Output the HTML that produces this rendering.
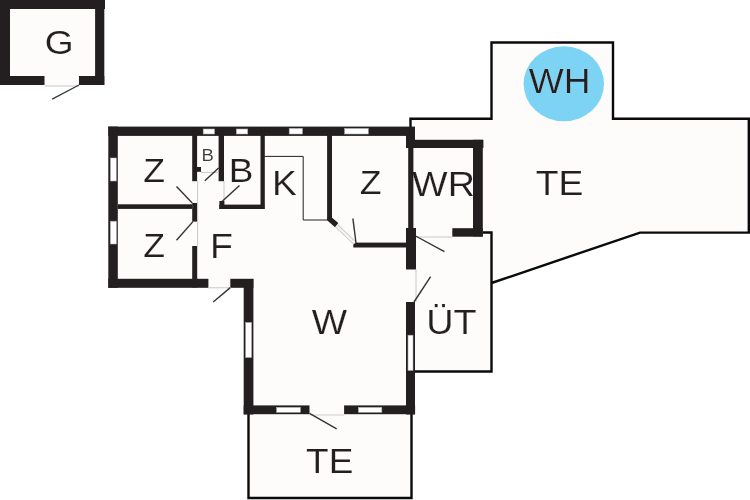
<!DOCTYPE html>
<html><head><meta charset="utf-8"><style>
html,body{margin:0;padding:0;background:#fff;width:750px;height:500px;overflow:hidden}
svg{display:block;will-change:transform}
text{font-family:"Liberation Sans",sans-serif;fill:#231f20;stroke:#fff;stroke-width:0.4px}
</style></head><body>
<svg width="750" height="500" viewBox="0 0 750 500">
<rect x="0" y="0" width="750" height="500" fill="#fff"/>
<g fill="#fdfcfb">
<rect x="0" y="0" width="105" height="85"/>
<polygon points="108,126.6 410.5,126.6 410.5,118.7 491.5,118.7 491.5,42.5 613,42.5 613,118.7 748.8,118.7 748.8,232.6 640,232.6 491.5,283 491.5,371.5 414,371.5 414,414 411.5,414 411.5,498 248.5,498 248.5,414 244,414 244,287.8 108,287.8"/>
</g>
<!-- G building -->
<g fill="#231f20">
<rect x="0" y="0" width="105" height="9"/>
<rect x="0" y="0" width="10" height="85"/>
<rect x="95.1" y="0" width="9.2" height="85"/>
<rect x="0" y="76" width="44.5" height="9"/>
<rect x="79" y="76" width="25.3" height="9"/>
</g>
<line x1="44.6" y1="86" x2="79" y2="86" stroke="#d8d8d8" stroke-width="1.5"/>
<line x1="79" y1="85" x2="52.2" y2="99.2" stroke="#3a3a3a" stroke-width="1.4"/>

<!-- Terrace outlines -->
<g fill="none" stroke="#0a0a0a" stroke-width="2.4">
<polyline points="410.5,127 410.5,118.7 491.5,118.7 491.5,42.5 613,42.5 613,118.7 748.8,118.7 748.8,232.6 640,232.6 491.5,283"/>
<polyline points="483,232.5 491.5,232.5 491.5,371.5 414,371.5"/>
<polyline points="248.5,414 248.5,498 411.5,498 411.5,414"/>
</g>
<ellipse cx="563.8" cy="83.8" rx="40.2" ry="37.5" fill="#7dd3f4"/>

<!-- labels -->
<text font-size="100" transform="matrix(0.3715,0,0,0.3354,44.79,54.42)">G</text>
<text font-size="100" transform="matrix(0.3564,0,0,0.3328,143.13,181.60)">Z</text>
<text font-size="100" transform="matrix(0.3564,0,0,0.3333,143.13,257.40)">Z</text>
<text font-size="100" transform="matrix(0.185,0,0,0.172,201.6,160.7)" style="fill:#3c3c3c">B</text>
<text font-size="100" transform="matrix(0.3698,0,0,0.3362,228.84,181.60)">B</text>
<text font-size="100" transform="matrix(0.3719,0,0,0.3536,272.02,194.80)">K</text>
<text font-size="100" transform="matrix(0.3564,0,0,0.3304,359.73,194.40)">Z</text>
<text font-size="100" transform="matrix(0.3755,0,0,0.3507,210.00,257.80)">F</text>
<text font-size="100" transform="matrix(0.3769,0,0,0.3478,412.12,195.80)">WR</text>
<text font-size="100" transform="matrix(0.3709,0,0,0.3478,528.73,93.10)">WH</text>
<text font-size="100" transform="matrix(0.3727,0,0,0.3551,535.75,194.80)">TE</text>
<text font-size="100" transform="matrix(0.3742,0,0,0.3507,311.63,333.60)">W</text>
<text font-size="100" transform="matrix(0.378,0,0,0.3435,426.28,333.70)">ÜT</text>
<text font-size="100" transform="matrix(0.3702,0,0,0.3536,306.06,473.20)">TE</text>
<!-- Main house walls -->
<g fill="#231f20">
<rect x="108.3" y="126.6" width="306.7" height="9.3"/>
<rect x="108.3" y="126.6" width="9.5" height="161.2"/>
<rect x="108.3" y="278.8" width="100.1" height="9"/>
<rect x="192.2" y="127" width="4.9" height="54.2"/>
<rect x="197" y="167" width="4" height="4.8"/>
<rect x="117.8" y="204.3" width="74.5" height="4.6"/>
<rect x="192.2" y="203" width="5" height="18.6"/>
<rect x="192.2" y="246" width="5" height="41.5"/>
<rect x="218.6" y="127" width="5.4" height="54.2"/>
<rect x="219.4" y="204.6" width="44.9" height="4.4"/>
<rect x="219.4" y="201" width="5" height="8"/>
<rect x="260.5" y="127" width="4.3" height="82"/>
<rect x="327.1" y="127" width="4.9" height="93"/>
<polygon points="327.4,217.5 331.8,217.5 338.3,223 335,227.3 327.4,220.5"/>
<rect x="353.3" y="242.6" width="57.5" height="4.9"/>
<rect x="406" y="127" width="9" height="21"/>
<rect x="408.2" y="127" width="5.2" height="101"/>
<rect x="406" y="228" width="10" height="41.5"/>
<rect x="415" y="139.8" width="68.4" height="8.2"/>
<rect x="473" y="139.8" width="9.8" height="96.6"/>
<rect x="452.3" y="228.2" width="30.5" height="8.5"/>
<rect x="406" y="302" width="9" height="112.5"/>
<rect x="230.3" y="278.8" width="23.1" height="9"/>
<rect x="243.7" y="279" width="9.7" height="135.5"/>
<rect x="243.7" y="405.4" width="65.8" height="8.8"/>
<rect x="344.1" y="405.4" width="71" height="8.8"/>
</g>
<!-- windows -->
<g fill="#fff" stroke="#aaa" stroke-width="0.6">
<rect x="110.4" y="158" width="5.9" height="23"/>
<rect x="110.3" y="221.2" width="6.2" height="22.8"/>
<rect x="203.2" y="129" width="11.3" height="5"/>
<rect x="236.3" y="129" width="11.4" height="5"/>
<rect x="289.2" y="128.3" width="13.2" height="5.7"/>
<rect x="344.6" y="128.4" width="23.7" height="5.6"/>
<rect x="245.6" y="322.5" width="6" height="35"/>
<rect x="408" y="335.2" width="5" height="35.2"/>
<rect x="276.6" y="407.3" width="23.8" height="5"/>
<rect x="358.4" y="407.3" width="23.4" height="5"/>
</g>
<!-- thin gray lines -->
<g stroke="#c8c8c8" stroke-width="1" fill="none">
<line x1="201" y1="172.4" x2="218.6" y2="172.4"/>
<line x1="197.6" y1="181" x2="197.6" y2="246"/>
<line x1="224" y1="181" x2="224" y2="201"/>
<line x1="208.4" y1="287.8" x2="230.3" y2="287.8"/>
<line x1="416" y1="237" x2="452.6" y2="237"/>
<line x1="416" y1="269.5" x2="416" y2="302"/>
<line x1="309.5" y1="415" x2="344.1" y2="415" stroke="#dcdcdc" stroke-width="1.3"/>
</g>
<g stroke="#231f20" stroke-width="1" fill="none">
<polyline points="264.3,156.4 303.2,156.4 303.2,220 328,220"/>
</g>
<g stroke="#c4c4c4" stroke-width="4" fill="none">
<line x1="336.6" y1="225.8" x2="354.8" y2="243.1"/>
</g>
<g stroke="#f4f4f4" stroke-width="2.4" fill="none">
<line x1="336.6" y1="225.8" x2="354.8" y2="243.1"/>
</g>
<!-- door swing lines -->
<g stroke="#333" stroke-width="1.4" fill="none">
<line x1="176.5" y1="186.5" x2="192.2" y2="203"/>
<line x1="192.9" y1="221.6" x2="176.5" y2="240.3"/>
<line x1="218.6" y1="168" x2="204.8" y2="180.8"/>
<line x1="239.5" y1="185.6" x2="222" y2="201.5"/>
<line x1="230.3" y1="287.6" x2="213.2" y2="302"/>
<line x1="352.9" y1="218.5" x2="356" y2="243"/>
<line x1="415.6" y1="236" x2="444.4" y2="251.6"/>
<line x1="430.6" y1="276.6" x2="414" y2="302"/>
<line x1="309.5" y1="413.3" x2="336.7" y2="428.8"/>
</g>

</svg>
</body></html>
